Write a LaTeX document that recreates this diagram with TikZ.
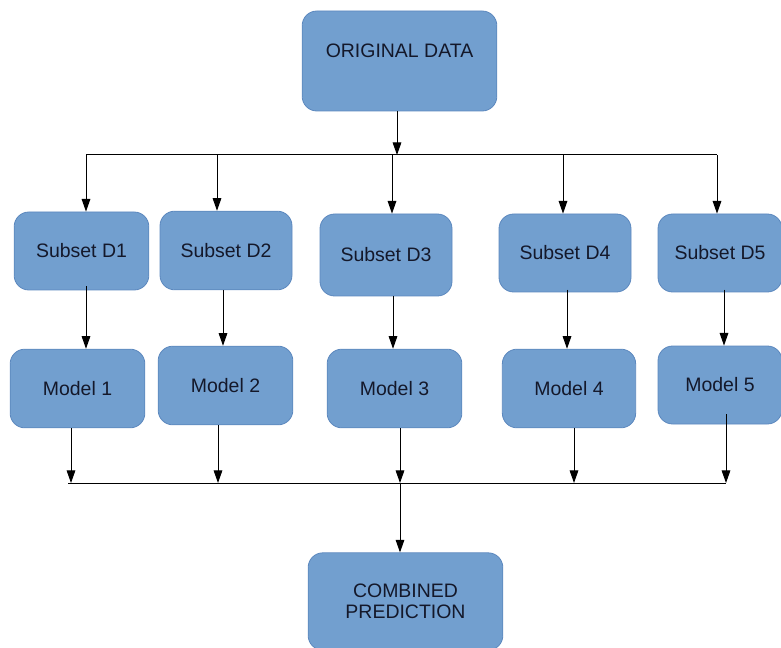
\documentclass[tikz,border=0pt]{standalone}
\usepackage{fontspec}
\setmainfont{Liberation Sans}
\usepackage{tikz}
\usetikzlibrary{arrows.meta}
\definecolor{boxfill}{HTML}{729FCF}
\definecolor{boxline}{HTML}{5C88BE}
\definecolor{boxtext}{HTML}{14182A}

\begin{document}
\begin{tikzpicture}[x=0.75pt,y=0.75pt,yscale=-1,xscale=1,
  box/.style={draw=boxline,fill=boxfill,line width=0.6pt,rounded corners=11pt,
    inner sep=0pt,align=center,text=boxtext,font=\fontsize{14.6}{15.8}\selectfont},
  wire/.style={draw=black,line width=0.75pt},
  arr/.style={wire,-{Triangle[length=9.5pt,width=6.5pt]}}]
\useasboundingbox (0,0) rectangle (781,648);

%Top box
\node[box,minimum width=146pt,minimum height=75pt,
  label={[font=\fontsize{14.6}{17.5}\selectfont,text=boxtext,yshift=8pt]center:ORIGINAL DATA}]
  (orig) at (399.5,61) {};

%Subsets
\node[box,minimum width=101pt,minimum height=58.5pt] (s1) at (81.5,251) {Subset D1};
\node[box,minimum width=99pt,minimum height=59pt] (s2) at (226,250.5) {Subset D2};
\node[box,minimum width=99pt,minimum height=61.5pt] (s3) at (386,255) {Subset D3};
\node[box,minimum width=99pt,minimum height=58.5pt] (s4) at (565,253) {Subset D4};
\node[box,minimum width=93pt,minimum height=58.5pt] (s5) at (720,253) {Subset D5};

%Models
\node[box,minimum width=101pt,minimum height=59pt] (m1) at (77.5,388.5) {Model 1};
\node[box,minimum width=101pt,minimum height=59pt] (m2) at (225.5,385.5) {Model 2};
\node[box,minimum width=101pt,minimum height=59pt] (m3) at (394.5,388.5) {Model 3};
\node[box,minimum width=100pt,minimum height=59pt] (m4) at (569,388.5) {Model 4};
\node[box,minimum width=93pt,minimum height=58.5pt] (m5) at (720,385) {Model 5};

%Bottom box
\node[box,minimum width=146pt,minimum height=73pt] (comb) at (405.5,601.5) {COMBINED\\PREDICTION};

%Split line
\coordinate (hub) at (397,155);
\coordinate (t1) at (86,155);
\coordinate (t2) at (217,155);
\coordinate (t3) at (392,155);
\coordinate (t4) at (563,155);
\coordinate (t5) at (717,155);
\draw[arr] (orig.south -| hub) -- (hub);
\draw[wire] (t1) -- (t5);
\draw[wire] (hub) -- (t3);
\draw[arr] (t1) -- (t1 |- s1.north);
\draw[arr] (t2) -- (t2 |- s2.north);
\draw[arr] (t3) -- (t3 |- s3.north);
\draw[arr] (t4) -- (t4 |- s4.north);
\draw[arr] (t5) -- (t5 |- s5.north);

%Subset to model
\coordinate (a1) at (86,0);
\coordinate (a2) at (223,0);
\coordinate (a3) at (393,0);
\coordinate (a4) at (567,0);
\coordinate (a5) at (724,0);
\draw[arr] ([yshift=-3pt]s1.south -| a1) -- (m1.north -| a1);
\draw[arr] (s2.south -| a2) -- (m2.north -| a2);
\draw[arr] (s3.south -| a3) -- (m3.north -| a3);
\draw[arr] ([yshift=-2pt]s4.south -| a4) -- (m4.north -| a4);
\draw[arr] ([yshift=-2pt]s5.south -| a5) -- (m5.north -| a5);

%Merge line
\coordinate (b1) at (71,483);
\coordinate (b2) at (218,483);
\coordinate (b3) at (400,483);
\coordinate (b4) at (574,483);
\coordinate (b5) at (726,483);
\draw[wire] (68,483) coordinate (bl) -- (b5);
\draw[arr] (m1.south -| b1) -- (b1);
\draw[arr] (m2.south -| b2) -- (b2);
\draw[arr] (m3.south -| b3) -- (b3);
\draw[arr] (m4.south -| b4) -- (b4);
\draw[arr] ([yshift=-7.5pt]m5.south -| b5) -- (b5);
\draw[arr] (b3) -- (comb.north -| b3);

\end{tikzpicture}
\end{document}
